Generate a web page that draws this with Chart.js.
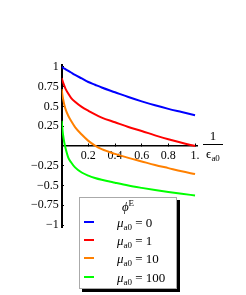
<!DOCTYPE html>
<html>
<head>
<meta charset="utf-8">
<script src="https://cdn.jsdelivr.net/npm/chart.js@4.4.0/dist/chart.umd.min.js"></script>
<style>
  html, body { margin: 0; padding: 0; background: #fff; }
  #wrap { position: relative; width: 246px; height: 295px; font-family: "Liberation Serif", serif; color: #000; }
  #chart { position: absolute; left: 0; top: 0; }
  .frac { position: absolute; left: 203px; top: 129px; width: 20px; text-align: center; font-size: 13px; line-height: 1; }
  .frac .num { display: block; padding-bottom: 2px; border-bottom: 1px solid #000; }
  .frac .den { display: block; padding-top: 2px; }
  sub { font-size: 9px; vertical-align: -3px; line-height: 0; font-style: normal; }
  sup { font-size: 9px; vertical-align: 5px; line-height: 0; font-style: normal; }
  #legend { position: absolute; left: 79px; top: 197px; width: 96px; height: 90px; background: #fff;
            border: 1px solid #aaa; box-shadow: 3px 3px 0 #000; font-size: 13px; }
  #legend .title { text-align: center; margin-top: 1px; height: 15px; }
  #legend .row { position: relative; height: 18.2px; }
  #legend .swatch { position: absolute; left: 4px; top: 7px; width: 10px; height: 2px; }
  #legend .lbl { position: absolute; left: 37px; top: 1px; white-space: nowrap; }
</style>
</head>
<body>
<div id="wrap">
  <canvas id="chart" width="246" height="295"></canvas>
  <div class="frac"><span class="num">1</span><span class="den">ϵ<sub>a0</sub></span></div>
  <div id="legend"><div class="title"><i>ϕ</i><sup>E</sup></div></div>
</div>
<script>
// 1/eps_a0 sample points
const xValues = [0, 0.005, 0.01, 0.02, 0.03, 0.05, 0.07, 0.1, 0.15, 0.2, 0.25, 0.3, 0.4, 0.5, 0.6, 0.7, 0.8, 0.9, 1]

// phi^E for each mu_a0
const phiMu0 = [1, 0.995, 0.99, 0.98, 0.97, 0.95, 0.93, 0.9, 0.855, 0.81, 0.775, 0.74, 0.68, 0.62, 0.565, 0.515, 0.47, 0.43, 0.39]
const phiMu1 = [0.86, 0.83, 0.805, 0.76, 0.72, 0.66, 0.61, 0.56, 0.495, 0.445, 0.4, 0.36, 0.3, 0.24, 0.19, 0.135, 0.085, 0.04, 0]
const phiMu10 = [0.72, 0.65, 0.6, 0.52, 0.46, 0.38, 0.32, 0.24, 0.145, 0.065, 0.005, -0.04, -0.1, -0.15, -0.195, -0.24, -0.28, -0.32, -0.355]
const phiMu100 = [0.32, 0.22, 0.145, 0.04, -0.035, -0.15, -0.205, -0.27, -0.335, -0.375, -0.405, -0.428, -0.465, -0.5, -0.53, -0.558, -0.583, -0.605, -0.625]

const muValues = ['0', '1', '10', '100']
const seriesColors = ['#0000ff', '#ff0000', '#ff8000', '#00ff00']

const xTicks = [0.2, 0.4, 0.6, 0.8, 1]
const xTickLabels = ['0.2', '0.4', '0.6', '0.8', '1.']
const yTicks = [-1, -0.75, -0.5, -0.25, 0.25, 0.5, 0.75, 1]
const yTickLabels = ['\u22121', '\u22120.75', '\u22120.5', '\u22120.25', '0.25', '0.5', '0.75', '1']

const series = [phiMu0, phiMu1, phiMu10, phiMu100]

const datasets = series.map((vals, i) => ({
  label: 'mu_a0 = ' + muValues[i],
  data: xValues.map((x, j) => ({ x: x, y: vals[j] })),
  borderColor: seriesColors[i],
  borderWidth: 2,
  pointRadius: 0,
  fill: false,
  cubicInterpolationMode: 'monotone',
}))

const tickFont = { family: 'Liberation Serif', size: 12 }

new Chart(document.getElementById('chart'), {
  type: 'line',
  data: { datasets },
  options: {
    responsive: false,
    animation: false,
    devicePixelRatio: 1,
    layout: { padding: { left: 61.7, right: 48.3, top: 64.6, bottom: 67.6 } },
    plugins: { legend: { display: false }, tooltip: { enabled: false } },
    scales: {
      x: {
        type: 'linear',
        min: 0,
        max: 1.02,
        position: { y: 0 },
        afterFit: (s) => { s.height = 0 },
        afterBuildTicks: (s) => { s.ticks = xTicks.map((v) => ({ value: v })) },
        ticks: {
          callback: (v, i) => xTickLabels[i],
          color: '#000',
          font: tickFont,
          padding: 6,
          maxRotation: 0,
          autoSkip: false,
        },
        grid: { drawOnChartArea: false, drawTicks: true, tickLength: -3, color: '#000', lineWidth: 1 },
        border: { color: '#000', width: 1.5 },
      },
      y: {
        type: 'linear',
        min: -1.03,
        max: 1.03,
        position: { x: 0 },
        afterFit: (s) => { s.width = 0 },
        afterBuildTicks: (s) => { s.ticks = yTicks.map((v) => ({ value: v })) },
        ticks: {
          // labels are right-aligned on the axis line, the trailing space keeps them off it
          callback: (v, i) => yTickLabels[i] + ' ',
          color: '#000',
          font: tickFont,
          padding: 7,
          autoSkip: false,
        },
        grid: { drawOnChartArea: false, drawTicks: true, tickLength: -3, color: '#000', lineWidth: 1 },
        border: { color: '#000', width: 2 },
      },
    },
  },
})

// html legend built from the same series names/colors
const legend = document.getElementById('legend')
muValues.forEach((mu, i) => {
  const row = document.createElement('div')
  row.className = 'row'
  row.innerHTML = '<span class="swatch" style="background:' + seriesColors[i] + '"></span>' +
    '<span class="lbl"><i>μ</i><sub>a0</sub> = ' + mu + '</span>'
  legend.appendChild(row)
})
</script>
</body>
</html>
